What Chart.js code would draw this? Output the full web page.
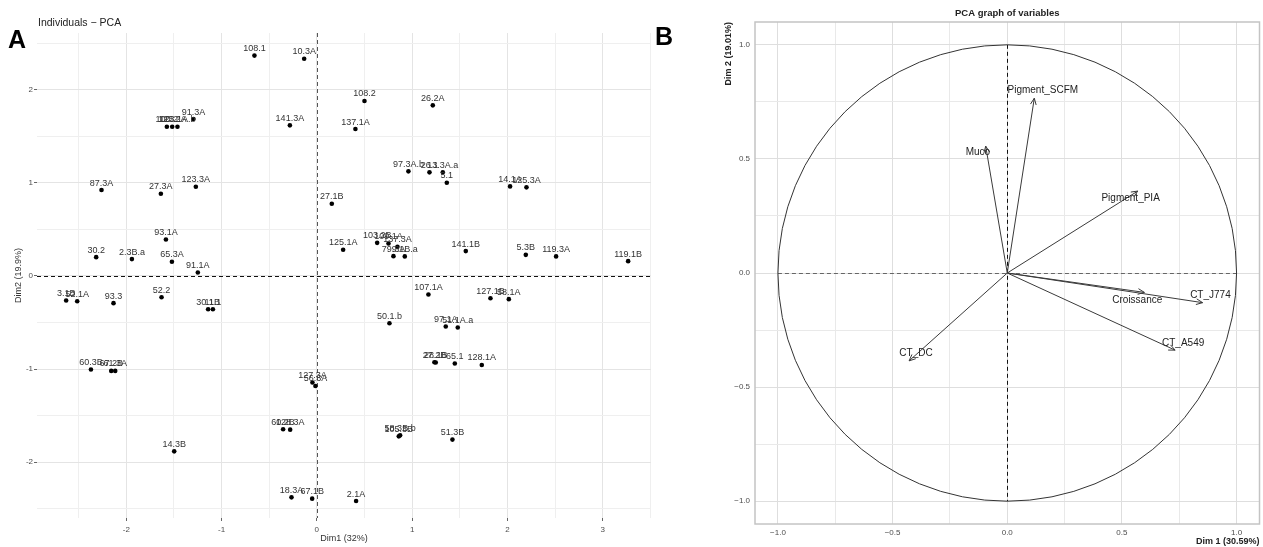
<!DOCTYPE html>
<html>
<head>
<meta charset="utf-8">
<script src="https://cdn.jsdelivr.net/npm/chart.js@4.4.1/dist/chart.umd.min.js"></script>
<style>
  html, body { margin: 0; padding: 0; background: #fff; }
  #wrap { position: relative; width: 1263px; height: 547px; overflow: hidden; }
  #pcaInd { position: absolute; left: 0; top: 0; }
  #pcaVar { position: absolute; left: 650px; top: 0; }
</style>
</head>
<body>
<div id="wrap">
  <canvas id="pcaInd" width="655" height="547"></canvas>
  <canvas id="pcaVar" width="613" height="547"></canvas>
</div>
<script>
// Panel A - individuals (Dim1 / Dim2 coordinates)
const indLabels = [
  '108.1', '10.3A', '91.3A', '100.2', '123.2A', '123.1A.b', '141.3A', '87.3A', '27.3A', '123.3A',
  '93.1A', '30.2', '2.3B.a', '65.3A', '91.1A', '108.2', '26.2A', '137.1A', '97.3A.b', '26.1',
  '13.3A.a', '5.1', '27.1B', '14.1A', '125.3A', '125.1A', '103.2B', '109.1A', '137.3A', '79.3A',
  '9.1B.a', '141.1B', '5.3B', '119.3A', '119.1B', '3.1B', '52.1A', '93.3', '52.2', '30.1B',
  '11.1', '60.3B', '67.2B', '61.3A', '127.3A', '56.3A', '60.2B', '128.3A', '14.3B', '18.3A',
  '67.1B', '107.1A', '127.1B', '58.1A', '50.1.b', '97.1A', '51.1A.a', '27.2B', '28.1B', '65.1',
  '128.1A', '105.3B', '58.3B.b', '51.3B', '2.1A'
];
const indDim1 = [
  -0.655, -0.133, -1.295, -1.574, -1.518, -1.463, -0.283, -2.260, -1.637, -1.270,
  -1.584, -2.316, -1.941, -1.521, -1.249, 0.500, 1.217, 0.405, 0.961, 1.182,
  1.322, 1.364, 0.157, 2.028, 2.200, 0.276, 0.633, 0.752, 0.846, 0.804,
  0.923, 1.563, 2.193, 2.511, 3.267, -2.631, -2.515, -2.134, -1.630, -1.141,
  -1.091, -2.371, -2.158, -2.116, -0.046, -0.015, -0.354, -0.280, -1.497, -0.266,
  -0.049, 1.171, 1.822, 2.015, 0.762, 1.353, 1.479, 1.234, 1.248, 1.448,
  1.731, 0.860, 0.874, 1.423, 0.412
];
const indDim2 = [
  2.367, 2.334, 1.686, 1.603, 1.603, 1.603, 1.618, 0.923, 0.883, 0.958,
  0.392, 0.202, 0.181, 0.152, 0.038, 1.880, 1.833, 1.578, 1.124, 1.113,
  1.113, 1.001, 0.775, 0.962, 0.952, 0.281, 0.356, 0.349, 0.313, 0.213,
  0.210, 0.267, 0.227, 0.210, 0.159, -0.263, -0.271, -0.292, -0.228, -0.357,
  -0.357, -1.005, -1.020, -1.020, -1.145, -1.182, -1.647, -1.651, -1.884, -2.378,
  -2.392, -0.199, -0.239, -0.249, -0.508, -0.543, -0.554, -0.927, -0.930, -0.941,
  -0.956, -1.723, -1.712, -1.758, -2.418
];
const indXTicks = [-2, -1, 0, 1, 2, 3];
const indYTicks = [-2, -1, 0, 1, 2];

// Panel B - variables (correlation circle)
const varLabels = ['Pigment_SCFM', 'Muco', 'Pigment_PIA', 'Croissance', 'CT_J774', 'CT_A549', 'CT_DC'];
const varDim1 = [0.118, -0.094, 0.569, 0.598, 0.852, 0.732, -0.428];
const varDim2 = [0.766, 0.556, 0.359, -0.085, -0.130, -0.338, -0.385];
// where each variable name sits (same units as the axes)
const varLabelDim1 = [0.155, -0.128, 0.538, 0.567, 0.886, 0.767, -0.398];
const varLabelDim2 = [0.799, 0.528, 0.327, -0.120, -0.098, -0.308, -0.352];
const varTicks = [-1, -0.5, 0, 0.5, 1];

Chart.defaults.font.family = '"Liberation Sans", Arial, sans-serif';

// major ticks plus the half-way minor grid lines inside [min, max]
function gridValues(majors, min, max) {
  const step = majors[1] - majors[0];
  const out = [];
  for (let v = majors[0] - step; v <= majors[majors.length - 1] + step + 1e-9; v += step / 2) {
    const r = Math.round(v * 1000) / 1000;
    if (r >= min - 1e-9 && r <= max + 1e-9) out.push(r);
  }
  return out;
}
const isMajor = (majors, v) => majors.some(m => Math.abs(m - v) < 1e-6);

// ---------- Panel A ----------
const indDecor = {
  id: 'indDecor',
  beforeDatasetsDraw(chart) {
    const { ctx, chartArea: a, scales: { x, y } } = chart;
    ctx.save();
    ctx.lineWidth = 1;
    ctx.setLineDash([4, 3]);
    ctx.strokeStyle = '#111';
    const y0 = Math.round(y.getPixelForValue(0)) + 0.5;
    ctx.beginPath(); ctx.moveTo(a.left, y0); ctx.lineTo(a.right, y0); ctx.stroke();
    ctx.strokeStyle = '#555';
    const x0 = Math.round(x.getPixelForValue(0)) + 0.5;
    ctx.beginPath(); ctx.moveTo(x0, a.top); ctx.lineTo(x0, a.bottom); ctx.stroke();
    ctx.restore();
  },
  afterDatasetsDraw(chart) {
    const ctx = chart.ctx;
    const pts = chart.getDatasetMeta(0).data;
    ctx.save();
    ctx.font = '9px "Liberation Sans", Arial, sans-serif';
    ctx.fillStyle = '#333';
    ctx.textAlign = 'center';
    ctx.textBaseline = 'alphabetic';
    pts.forEach((p, i) => ctx.fillText(indLabels[i], p.x, p.y - 4.5));
    ctx.restore();
  },
  afterDraw(chart) {
    const ctx = chart.ctx;
    ctx.save();
    ctx.fillStyle = '#222';
    ctx.font = '10.5px "Liberation Sans", Arial, sans-serif';
    ctx.fillText('Individuals \u2212 PCA', 38, 26);
    ctx.fillStyle = '#000';
    ctx.font = 'bold 25px "Liberation Sans", Arial, sans-serif';
    ctx.fillText('A', 8, 48);
    ctx.restore();
  }
};

new Chart(document.getElementById('pcaInd'), {
  type: 'scatter',
  data: {
    datasets: [{
      data: indDim1.map((v, i) => ({ x: v, y: indDim2[i] })),
      pointRadius: 2.3,
      pointHoverRadius: 2.3,
      backgroundColor: '#000',
      borderWidth: 0
    }]
  },
  options: {
    responsive: false,
    animation: false,
    events: [],
    layout: { padding: { top: 33, right: 4, bottom: 0, left: 0 } },
    plugins: { legend: { display: false }, tooltip: { enabled: false } },
    scales: {
      x: {
        type: 'linear', min: -2.937, max: 3.507,
        afterBuildTicks: s => { s.ticks = gridValues(indXTicks, s.min, s.max).map(v => ({ value: v })); },
        afterFit: s => { s.height = 29; },
        ticks: {
          autoSkip: false, maxRotation: 0, padding: 4, color: '#4d4d4d', font: { size: 8 },
          callback: v => isMajor(indXTicks, v) ? String(v) : ''
        },
        grid: {
          color: c => c.tick && isMajor(indXTicks, c.tick.value) ? '#e4e4e4' : '#efefef',
          tickLength: 3,
          tickColor: c => c.tick && isMajor(indXTicks, c.tick.value) ? '#666' : 'rgba(0,0,0,0)'
        },
        border: { display: false },
        title: { display: true, text: 'Dim1 (32%)', color: '#333', font: { size: 9 }, padding: { top: 0, bottom: 3 } }
      },
      y: {
        type: 'linear', min: -2.6, max: 2.61,
        afterBuildTicks: s => { s.ticks = gridValues(indYTicks, s.min, s.max).map(v => ({ value: v })); },
        afterFit: s => { s.width = 37; },
        ticks: {
          autoSkip: false, padding: 1, color: '#4d4d4d', font: { size: 8 },
          callback: v => isMajor(indYTicks, v) ? String(v) : ''
        },
        grid: {
          color: c => c.tick && isMajor(indYTicks, c.tick.value) ? '#e4e4e4' : '#efefef',
          tickLength: 3,
          tickColor: c => c.tick && isMajor(indYTicks, c.tick.value) ? '#666' : 'rgba(0,0,0,0)'
        },
        border: { display: false },
        title: { display: true, text: 'Dim2 (19.9%)', color: '#333', font: { size: 9 }, padding: { top: 13, bottom: 0 } }
      }
    }
  },
  plugins: [indDecor]
});

// ---------- Panel B ----------
const varDecor = {
  id: 'varDecor',
  beforeDatasetsDraw(chart) {
    const { ctx, scales: { x, y } } = chart;
    const cx = x.getPixelForValue(0), cy = y.getPixelForValue(0);
    const rx = x.getPixelForValue(1) - cx, ry = cy - y.getPixelForValue(1);
    ctx.save();
    ctx.lineWidth = 1;
    ctx.setLineDash([4, 3]);
    ctx.strokeStyle = '#666';
    ctx.beginPath(); ctx.moveTo(cx - rx, Math.round(cy) + 0.5); ctx.lineTo(cx + rx, Math.round(cy) + 0.5); ctx.stroke();
    ctx.strokeStyle = '#111';
    ctx.beginPath(); ctx.moveTo(Math.round(cx) + 0.5, cy - ry); ctx.lineTo(Math.round(cx) + 0.5, cy + ry); ctx.stroke();
    ctx.setLineDash([]);
    ctx.strokeStyle = '#333';
    ctx.beginPath(); ctx.ellipse(cx, cy, rx, ry, 0, 0, Math.PI * 2); ctx.stroke();
    ctx.restore();
  },
  afterDatasetsDraw(chart) {
    const { ctx, scales: { x, y } } = chart;
    ctx.save();
    ctx.strokeStyle = '#3a3a3a';
    ctx.lineWidth = 1;
    chart.data.datasets.forEach((ds, i) => {
      const [a, b] = chart.getDatasetMeta(i).data;
      const ang = Math.atan2(b.y - a.y, b.x - a.x);
      const len = 7, spread = 0.42;
      ctx.beginPath();
      ctx.moveTo(b.x - len * Math.cos(ang - spread), b.y - len * Math.sin(ang - spread));
      ctx.lineTo(b.x, b.y);
      ctx.lineTo(b.x - len * Math.cos(ang + spread), b.y - len * Math.sin(ang + spread));
      ctx.stroke();
    });
    ctx.font = '10px "Liberation Sans", Arial, sans-serif';
    ctx.fillStyle = '#222';
    ctx.textAlign = 'center';
    ctx.textBaseline = 'middle';
    varLabels.forEach((t, i) => {
      ctx.fillText(t, x.getPixelForValue(varLabelDim1[i]), y.getPixelForValue(varLabelDim2[i]));
    });
    ctx.restore();
  },
  afterDraw(chart) {
    const { ctx, chartArea: a } = chart;
    ctx.save();
    ctx.strokeStyle = '#c4c4c4';
    ctx.lineWidth = 1.5;
    ctx.strokeRect(a.left, a.top, a.right - a.left, a.bottom - a.top);
    ctx.fillStyle = '#222';
    ctx.font = 'bold 9.5px "Liberation Sans", Arial, sans-serif';
    ctx.textAlign = 'center';
    ctx.fillText('PCA graph of variables', (a.left + a.right) / 2, 15.5);
    ctx.textAlign = 'left';
    ctx.fillStyle = '#000';
    ctx.font = 'bold 25px "Liberation Sans", Arial, sans-serif';
    ctx.fillText('B', 5, 45);
    ctx.restore();
  }
};

new Chart(document.getElementById('pcaVar'), {
  type: 'scatter',
  data: {
    datasets: varLabels.map((name, i) => ({
      label: name,
      data: [{ x: 0, y: 0 }, { x: varDim1[i], y: varDim2[i] }],
      showLine: true,
      borderColor: '#3a3a3a',
      borderWidth: 1,
      pointRadius: 0,
      pointHoverRadius: 0
    }))
  },
  options: {
    responsive: false,
    animation: false,
    events: [],
    layout: { padding: { top: 22, right: 3.5, bottom: 0, left: 0 } },
    plugins: { legend: { display: false }, tooltip: { enabled: false } },
    scales: {
      x: {
        type: 'linear', min: -1.1, max: 1.1,
        afterBuildTicks: s => { s.ticks = gridValues(varTicks, s.min, s.max).map(v => ({ value: v })); },
        afterFit: s => { s.height = 23; },
        ticks: {
          autoSkip: false, maxRotation: 0, padding: 2, color: '#4d4d4d', font: { size: 8 },
          callback: v => isMajor(varTicks, v) ? v.toFixed(1).replace('-', '\u2212') : ''
        },
        grid: {
          color: c => c.tick && isMajor(varTicks, c.tick.value) ? '#dedede' : '#e9e9e9',
          tickLength: 2, tickColor: 'rgba(0,0,0,0)'
        },
        border: { display: false },
        title: { display: true, align: 'end', text: 'Dim 1 (30.59%)', color: '#222', font: { size: 9, weight: 'bold' }, padding: { top: 0, bottom: 0 } }
      },
      y: {
        type: 'linear', min: -1.1, max: 1.1,
        afterBuildTicks: s => { s.ticks = gridValues(varTicks, s.min, s.max).map(v => ({ value: v })); },
        afterFit: s => { s.width = 105; },
        ticks: {
          autoSkip: false, padding: 3, color: '#4d4d4d', font: { size: 8 },
          callback: v => isMajor(varTicks, v) ? v.toFixed(1).replace('-', '\u2212') : ''
        },
        grid: {
          color: c => c.tick && isMajor(varTicks, c.tick.value) ? '#dedede' : '#e9e9e9',
          tickLength: 2, tickColor: 'rgba(0,0,0,0)'
        },
        border: { display: false },
        title: { display: true, align: 'end', text: 'Dim 2 (19.01%)', color: '#222', font: { size: 9, weight: 'bold' }, padding: { top: 73, bottom: 0 } }
      }
    }
  },
  plugins: [varDecor]
});
</script>
</body>
</html>
